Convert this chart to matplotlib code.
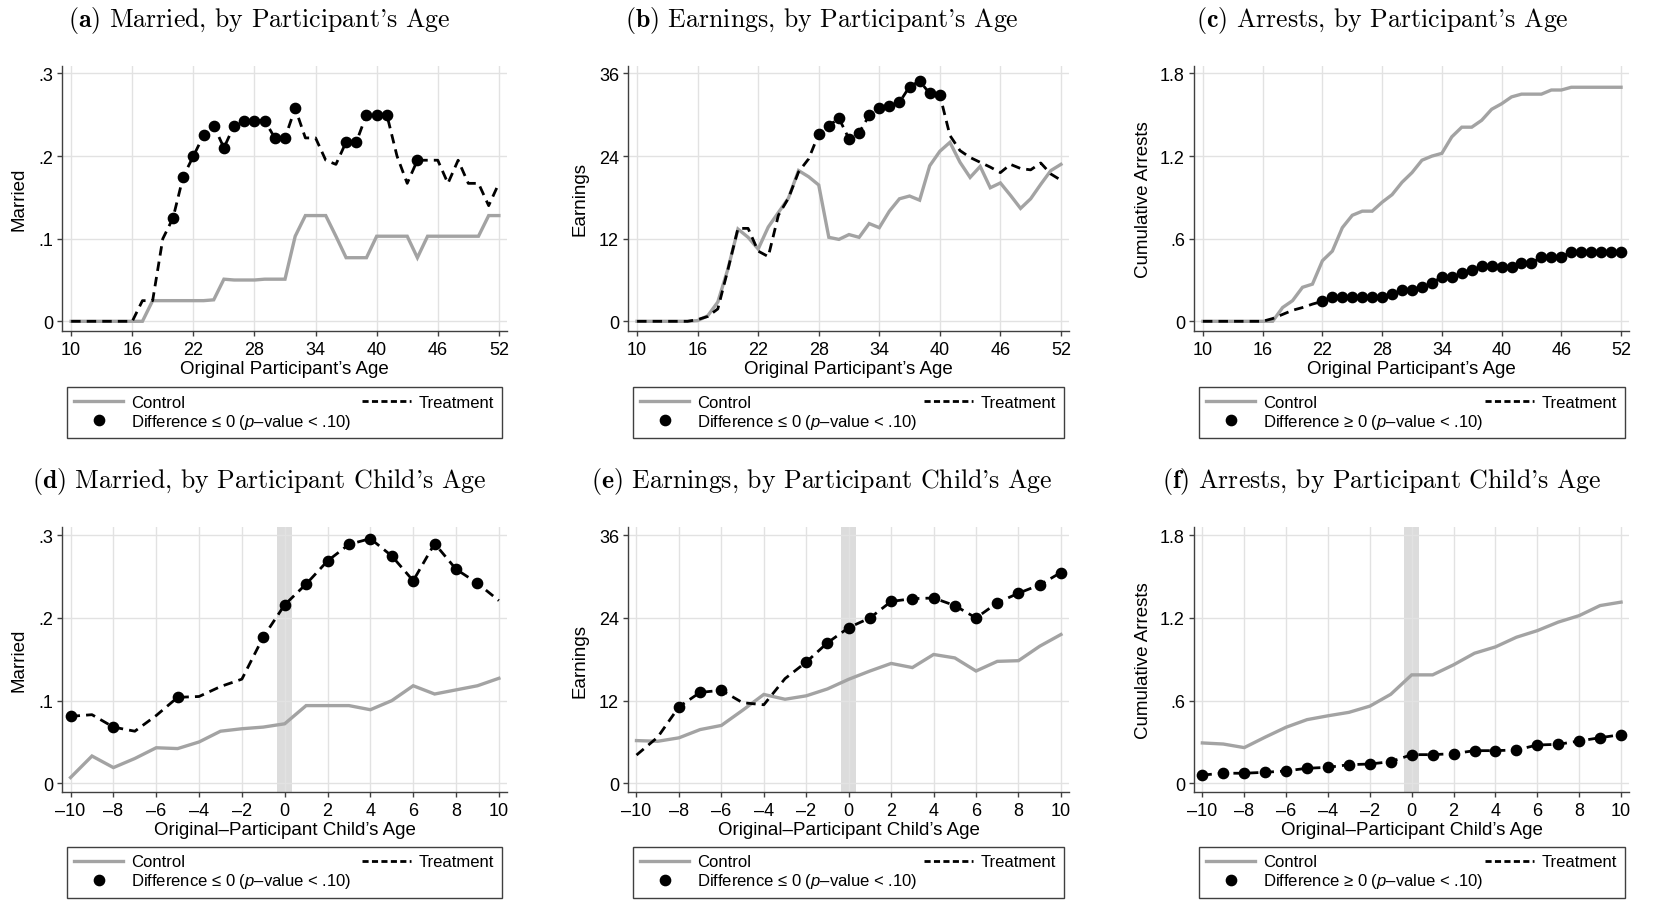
import matplotlib
matplotlib.use("Agg")
import matplotlib.pyplot as plt
from matplotlib.lines import Line2D

plt.rcParams['font.family'] = ['Liberation Sans', 'DejaVu Sans']
plt.rcParams['mathtext.fontset'] = 'custom'
plt.rcParams['mathtext.rm'] = 'Liberation Sans'
plt.rcParams['mathtext.it'] = 'Liberation Sans:italic'

# ---- data -------------------------------------------------------------------
age = list(range(10, 53))
child_age = list(range(-10, 11))

married_ctrl = [0, 0, 0, 0, 0, 0, 0, 0, 0.025, 0.025, 0.025, 0.025, 0.025, 0.025, 0.026,
                0.051, 0.050, 0.050, 0.050, 0.051, 0.051, 0.051, 0.103, 0.128, 0.128, 0.128,
                0.103, 0.077, 0.077, 0.077, 0.103, 0.103, 0.103, 0.103, 0.077, 0.103, 0.103,
                0.103, 0.103, 0.103, 0.103, 0.128, 0.128]
married_treat = [0, 0, 0, 0, 0, 0, 0, 0.025, 0.025, 0.1, 0.125, 0.175, 0.2, 0.225, 0.237,
                 0.21, 0.237, 0.243, 0.243, 0.243, 0.222, 0.222, 0.258, 0.222, 0.222, 0.195,
                 0.19, 0.217, 0.217, 0.25, 0.25, 0.25, 0.2, 0.167, 0.195, 0.195, 0.195, 0.167,
                 0.195, 0.167, 0.167, 0.14, 0.167]
married_sig = list(range(20, 33)) + [37, 38, 39, 40, 41, 44]

earn_ctrl = [0, 0, 0, 0, 0, 0, 0.1, 0.8, 2.8, 7.6, 13.4, 12.2, 10.5, 13.7, 15.8, 17.9, 21.9,
             21.0, 19.8, 12.2, 11.9, 12.6, 12.2, 14.2, 13.6, 16.0, 17.8, 18.2, 17.6, 22.6,
             24.7, 26.0, 23.1, 20.9, 22.5, 19.4, 20.1, 18.3, 16.4, 17.8, 19.9, 21.9, 22.8]
earn_treat = [0, 0, 0, 0, 0, 0, 0.25, 0.7, 1.8, 7.5, 13.5, 13.5, 10.2, 9.4, 15.4, 17.9, 21.7,
              23.6, 27.2, 28.4, 29.5, 26.5, 27.4, 29.9, 31.0, 31.3, 31.8, 34.1, 34.9, 33.1,
              32.9, 27.0, 24.8, 23.8, 23.1, 22.4, 21.6, 22.8, 22.2, 22.0, 23.0, 21.4, 20.5]
earn_sig = list(range(28, 41))

arr_ctrl = [0, 0, 0, 0, 0, 0, 0, 0, 0.1, 0.15, 0.247, 0.27, 0.44, 0.51, 0.68, 0.77, 0.8, 0.8,
            0.865, 0.92, 1.01, 1.08, 1.17, 1.2, 1.22, 1.34, 1.41, 1.41, 1.46, 1.54, 1.58,
            1.63, 1.65, 1.65, 1.65, 1.68, 1.68, 1.70, 1.70, 1.70, 1.70, 1.70, 1.70]
arr_treat = [0, 0, 0, 0, 0, 0, 0, 0.02, 0.05, 0.08, 0.1, 0.125, 0.145, 0.175, 0.175, 0.175,
             0.175, 0.175, 0.175, 0.2, 0.228, 0.225, 0.25, 0.276, 0.325, 0.325, 0.35, 0.37,
             0.4, 0.4, 0.395, 0.395, 0.425, 0.42, 0.47, 0.47, 0.47, 0.5, 0.5, 0.5, 0.5, 0.5, 0.5]
arr_sig = list(range(22, 53))

mar_c_ctrl = [0.007, 0.033, 0.019, 0.03, 0.043, 0.042, 0.05, 0.063, 0.066, 0.068, 0.072,
              0.094, 0.094, 0.094, 0.089, 0.1, 0.118, 0.108, 0.113, 0.118, 0.127]
mar_c_treat = [0.081, 0.083, 0.068, 0.063, 0.082, 0.104, 0.105, 0.117, 0.126, 0.177, 0.216,
               0.241, 0.269, 0.289, 0.296, 0.275, 0.245, 0.29, 0.259, 0.242, 0.221]
mar_c_sig = [-10, -8, -5, -1, 0, 1, 2, 3, 4, 5, 6, 7, 8, 9]

earn_c_ctrl = [6.2, 6.1, 6.6, 7.8, 8.4, 10.6, 12.9, 12.2, 12.7, 13.7, 15.1, 16.3, 17.4, 16.8,
               18.7, 18.2, 16.3, 17.7, 17.8, 19.9, 21.6]
earn_c_treat = [4.1, 6.7, 11.1, 13.2, 13.5, 11.7, 11.4, 15.2, 17.6, 20.4, 22.6, 24.0, 26.4,
                26.8, 26.9, 25.8, 24.0, 26.2, 27.6, 28.8, 30.6]
earn_c_sig = [-8, -7, -6, -2, -1] + list(range(0, 11))

arr_c_ctrl = [0.293, 0.285, 0.259, 0.335, 0.407, 0.462, 0.49, 0.515, 0.56, 0.646, 0.787,
              0.787, 0.86, 0.944, 0.99, 1.06, 1.108, 1.17, 1.217, 1.29, 1.315]
arr_c_treat = [0.06, 0.073, 0.073, 0.08, 0.09, 0.109, 0.116, 0.135, 0.14, 0.157, 0.208,
               0.208, 0.215, 0.237, 0.237, 0.242, 0.278, 0.283, 0.307, 0.331, 0.353]
arr_c_sig = list(range(-10, 11))

age_ticks = [10, 16, 22, 28, 34, 40, 46, 52]
child_ticks = list(range(-10, 11, 2))
child_ticklabels = [str(t).replace('-', '\u2013') for t in child_ticks]

married_yticks = [0, 0.1, 0.2, 0.3]
married_ylabels = ['0', '.1', '.2', '.3']
earn_yticks = [0, 12, 24, 36]
earn_ylabels = ['0', '12', '24', '36']
arr_yticks = [0, 0.6, 1.2, 1.8]
arr_ylabels = ['0', '.6', '1.2', '1.8']

titles = ["(a)", "(b)", "(c)", "(d)", "(e)", "(f)"]
subtitles = ["Married, by Participant's Age", "Earnings, by Participant's Age",
             "Arrests, by Participant's Age", "Married, by Participant Child's Age",
             "Earnings, by Participant Child's Age", "Arrests, by Participant Child's Age"]

# ---- layout ------------------------------------------------------------------
W, H = 1681, 903
fig = plt.figure(figsize=(W / 100, H / 100), dpi=100)

GRID = '#e2e2e2'
AXC = '#404040'
CTRL = '#a3a3a3'


def px_axes(l, t, r, b):
    return fig.add_axes([l / W, 1 - b / H, (r - l) / W, (b - t) / H])


panels = [
    dict(x=age, c=married_ctrl, t=married_treat, sig=married_sig, yt=married_yticks,
         yl=married_ylabels, ylab='Married', diff='\u2264'),
    dict(x=age, c=earn_ctrl, t=earn_treat, sig=earn_sig, yt=earn_yticks,
         yl=earn_ylabels, ylab='Earnings', diff='\u2264'),
    dict(x=age, c=arr_ctrl, t=arr_treat, sig=arr_sig, yt=arr_yticks,
         yl=arr_ylabels, ylab='Cumulative Arrests', diff='\u2265'),
    dict(x=child_age, c=mar_c_ctrl, t=mar_c_treat, sig=mar_c_sig, yt=married_yticks,
         yl=married_ylabels, ylab='Married', diff='\u2264'),
    dict(x=child_age, c=earn_c_ctrl, t=earn_c_treat, sig=earn_c_sig, yt=earn_yticks,
         yl=earn_ylabels, ylab='Earnings', diff='\u2264'),
    dict(x=child_age, c=arr_c_ctrl, t=arr_c_treat, sig=arr_c_sig, yt=arr_yticks,
         yl=arr_ylabels, ylab='Cumulative Arrests', diff='\u2265'),
]

col_lr = [(62, 507), (628, 1069), (1194, 1629)]
ylab_x = [28, 589, 1152]
title_cx = [259, 822, 1382]
row_tb = [(67, 332), (528, 793)]
title_base = [27, 488]
leg_top = [388, 848]
leg_lr = [(67, 502), (633, 1064), (1199, 1625)]

for i, p in enumerate(panels):
    row, col = divmod(i, 3)
    l, r = col_lr[col]
    t, b = row_tb[row]
    ax = px_axes(l, t, r, b)

    top_pad = 7.5 / 248 if row == 0 else 8.3 / 248
    bot_pad = 9.7 / 248 if row == 0 else 8.7 / 248
    ymax = p['yt'][-1]
    ax.set_ylim(-bot_pad * ymax, ymax * (1 + top_pad))
    if row == 0:
        ax.set_xlim(9.1, 52.8)
        ax.set_xticks(age_ticks)
        ax.set_xticklabels([str(v) for v in age_ticks])
        ax.set_xlabel("Original Participant\u2019s Age", fontsize=13.5)
    else:
        ax.set_xlim(-10.4, 10.38)
        ax.set_xticks(child_ticks)
        ax.set_xticklabels(child_ticklabels)
        ax.set_xlabel("Original\u2013Participant Child\u2019s Age", fontsize=13.5)
        ax.axvspan(-0.35, 0.35, color='#dcdcdc', lw=0, zorder=0.5)
    ax.set_yticks(p['yt'])
    ax.set_yticklabels(p['yl'])
    ax.set_ylabel(p['ylab'], fontsize=13.5)
    ax.yaxis.set_label_coords((ylab_x[col] - l) / (r - l), 0.5)
    ax.xaxis.set_label_coords(0.5, -0.108)

    ax.grid(True, color=GRID, lw=1.0, zorder=0)
    ax.set_axisbelow(True)
    for s in ['top', 'right']:
        ax.spines[s].set_visible(False)
    for s in ['left', 'bottom']:
        ax.spines[s].set_color(AXC)
        ax.spines[s].set_linewidth(1.0)
    ax.tick_params(direction='out', length=3.5, width=1.0, color=AXC,
                   labelsize=13, pad=3)
    ax.tick_params(axis='x', pad=4)

    ax.plot(p['x'], p['c'], color=CTRL, lw=2.4, zorder=2, solid_joinstyle='miter')
    ax.plot(p['x'], p['t'], color='black', lw=2.0, ls=(0, (3.4, 2.2)), zorder=3)
    sx = [v for v in p['x'] if v in p['sig']]
    sy = [p['t'][p['x'].index(v)] for v in sx]
    ax.plot(sx, sy, 'o', color='black', ms=7.4, zorder=4, ls='none')

    # title
    fig.text(title_cx[col] / W, 1 - title_base[row] / H,
             r"$\mathbf{" + titles[i] + r"}$ " + subtitles[i],
             fontfamily='cmr10', math_fontfamily='cm', fontsize=18.6,
             ha='center', va='baseline')

    # legend
    h_c = Line2D([], [], color=CTRL, lw=2.4)
    h_t = Line2D([], [], color='black', lw=2.0, ls=(0, (2.2, 1.2)))
    h_d = Line2D([], [], color='black', marker='o', ms=7.4, ls='none')
    ll = leg_lr[col]
    leg = ax.legend([h_c, h_d, h_t],
                    ['Control', 'Difference ' + p['diff'] + ' 0 ($\\it{p}$\u2013value < .10)',
                     'Treatment'],
                    ncol=2, mode='expand', loc='upper left',
                    bbox_to_anchor=(ll[0] / W, 1 - leg_top[row] / H, (ll[1] - ll[0]) / W, 0.0),
                    bbox_transform=fig.transFigure, fontsize=12, frameon=True,
                    fancybox=False, framealpha=1, edgecolor=AXC, borderaxespad=0,
                    handlelength=2.9, handletextpad=0.5, labelspacing=0.12,
                    borderpad=0.45, columnspacing=1.0)
    leg.get_frame().set_linewidth(1.0)

fig.savefig('out.png', dpi=100)
